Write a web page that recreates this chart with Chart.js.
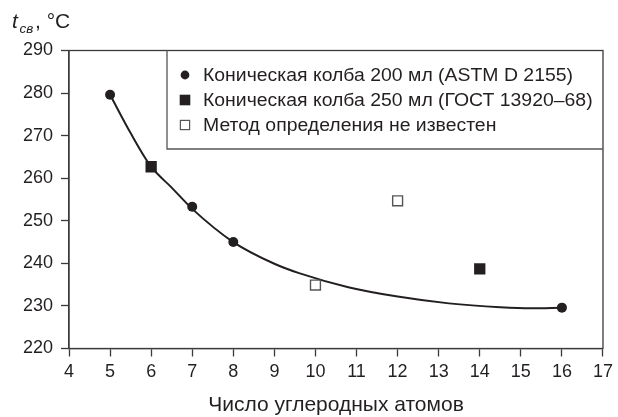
<!DOCTYPE html>
<html>
<head>
<meta charset="utf-8">
<script src="https://cdn.jsdelivr.net/npm/chart.js@4.4.0/dist/chart.umd.min.js"></script>
<style>
  html, body { margin: 0; padding: 0; background: #fff; }
  #chart { width: 618px; height: 417px; }
</style>
</head>
<body>
<div id="chart"><canvas id="myChart"></canvas></div>
<script>
// Values
const ASTM_X = [5, 7, 8, 16];
const ASTM_Y = [279.6, 253.3, 245.0, 229.6];
const GOST_X = [6, 14];
const GOST_Y = [262.7, 238.7];
const UNKNOWN_X = [10, 12];
const UNKNOWN_Y = [234.9, 254.7];
// trend curve
const TREND_X = [5, 5.5, 6, 6.5, 7, 8, 9, 9.6, 10.8, 12, 13.25, 14.5, 15.25, 16];
const TREND_Y = [279.6, 270.6, 262.7, 257.8, 252.8, 245.0, 239.9, 237.7, 234.4, 232.2, 230.6, 229.7, 229.45, 229.6];

const LEGEND_LABELS = [
    'Коническая колба 200 мл (ASTM D 2155)',
    'Коническая колба 250 мл (ГОСТ 13920–68)',
    'Метод определения не известен'
];
const X_TITLE = 'Число углеродных атомов';
const X_MIN = 4, X_MAX = 17;
const Y_MIN = 220, Y_MAX = 290;

const INK = '#231f20';
const FONT = '"Liberation Sans", Arial, sans-serif';

function toPoints(xs, ys) {
    return xs.map((x, i) => ({ x: x, y: ys[i] }));
}

// Frame round the plot, the y title and the boxed legend
const decorPlugin = {
    id: 'decor',
    afterDraw(chart) {
        const ctx = chart.ctx;
        const a = chart.chartArea;
        ctx.save();

        // full frame
        ctx.strokeStyle = '#3a3a3a';
        ctx.lineWidth = 1.3;
        ctx.strokeRect(a.left, a.top, a.right - a.left, a.bottom - a.top);

        // y title: t_св, °C
        ctx.fillStyle = INK;
        ctx.textBaseline = 'alphabetic';
        ctx.font = 'italic 21px ' + FONT;
        ctx.fillText('t', 12, 28);
        ctx.font = 'italic 13.5px ' + FONT;
        ctx.fillText('св', 19.5, 33);
        ctx.font = '21px ' + FONT;
        ctx.fillText(', °C', 35, 28);

        // legend box
        const boxLeft = a.left + 98;
        const boxBottom = a.top + 98.5;
        ctx.strokeStyle = '#555';
        ctx.lineWidth = 1.3;
        ctx.beginPath();
        ctx.moveTo(boxLeft, a.top);
        ctx.lineTo(boxLeft, boxBottom);
        ctx.lineTo(a.right, boxBottom);
        ctx.stroke();

        const mx = boxLeft + 18;
        const tx = boxLeft + 36;
        const rows = [a.top + 24.5, a.top + 49.5, a.top + 74.5];

        ctx.fillStyle = INK;
        ctx.beginPath();
        ctx.arc(mx, rows[0], 4.4, 0, Math.PI * 2);
        ctx.fill();
        ctx.fillRect(mx - 5.3, rows[1] - 5.3, 10.6, 10.6);
        ctx.fillStyle = '#fff';
        ctx.strokeStyle = '#555';
        ctx.lineWidth = 1.2;
        ctx.fillRect(mx - 4.6, rows[2] - 4.6, 9.2, 9.2);
        ctx.strokeRect(mx - 4.6, rows[2] - 4.6, 9.2, 9.2);

        // the printed legend type is a little wider than Liberation Sans
        ctx.font = '17.5px ' + FONT;
        ctx.textBaseline = 'middle';
        ctx.fillStyle = INK;
        const stretch = 370 / ctx.measureText(LEGEND_LABELS[0]).width;
        LEGEND_LABELS.forEach((label, i) => {
            ctx.save();
            ctx.translate(tx, rows[i] + 1);
            ctx.scale(stretch, 1);
            ctx.fillText(label, 0, 0);
            ctx.restore();
        });

        ctx.restore();
    }
};

const chart = new Chart(document.getElementById('myChart'), {
    type: 'scatter',
    data: {
        datasets: [
            {
                label: LEGEND_LABELS[0],
                data: toPoints(ASTM_X, ASTM_Y),
                pointStyle: 'circle',
                pointRadius: 5,
                pointBorderWidth: 0,
                pointBackgroundColor: INK,
                pointBorderColor: INK,
                order: 0
            },
            {
                label: LEGEND_LABELS[1],
                data: toPoints(GOST_X, GOST_Y),
                pointStyle: 'rect',
                pointRadius: 8,
                pointBorderWidth: 0,
                pointBackgroundColor: INK,
                pointBorderColor: INK,
                order: 0
            },
            {
                label: LEGEND_LABELS[2],
                data: toPoints(UNKNOWN_X, UNKNOWN_Y),
                pointStyle: 'rect',
                pointRadius: 7,
                pointBorderWidth: 1.4,
                pointBackgroundColor: '#fff',
                pointBorderColor: '#555',
                order: 0
            },
            {
                label: 'trend',
                type: 'line',
                data: toPoints(TREND_X, TREND_Y),
                showLine: true,
                fill: false,
                pointRadius: 0,
                borderColor: INK,
                borderWidth: 2,
                cubicInterpolationMode: 'monotone',
                order: 1
            }
        ]
    },
    options: {
        responsive: true,
        maintainAspectRatio: false,
        animation: false,
        events: [],
        layout: {
            padding: { left: 0, right: 13.5, top: 50.5, bottom: 0 }
        },
        scales: {
            x: {
                type: 'linear',
                min: X_MIN,
                max: X_MAX,
                ticks: {
                    stepSize: 1,
                    color: INK,
                    font: { family: FONT, size: 18 },
                    padding: 5
                },
                grid: {
                    drawOnChartArea: false,
                    drawTicks: true,
                    tickLength: 8,
                    tickWidth: 1.3,
                    tickColor: '#3a3a3a'
                },
                border: { color: '#3a3a3a', width: 1.3 },
                title: {
                    display: true,
                    text: X_TITLE,
                    color: INK,
                    font: { family: FONT, size: 21, lineHeight: 1.1 },
                    padding: { top: 0, bottom: 0 }
                },
                afterFit: (scale) => { scale.height = 68.5; }
            },
            y: {
                type: 'linear',
                min: Y_MIN,
                max: Y_MAX,
                ticks: {
                    stepSize: 10,
                    color: INK,
                    font: { family: FONT, size: 18 },
                    padding: 8
                },
                grid: {
                    drawOnChartArea: false,
                    drawTicks: true,
                    tickLength: 8,
                    tickWidth: 1.3,
                    tickColor: '#3a3a3a'
                },
                border: { color: '#3a3a3a', width: 1.3 },
                afterFit: (scale) => { scale.width = 69; }
            }
        },
        plugins: {
            legend: { display: false },
            title: { display: false },
            tooltip: { enabled: false }
        }
    },
    plugins: [decorPlugin]
});
</script>
</body>
</html>
